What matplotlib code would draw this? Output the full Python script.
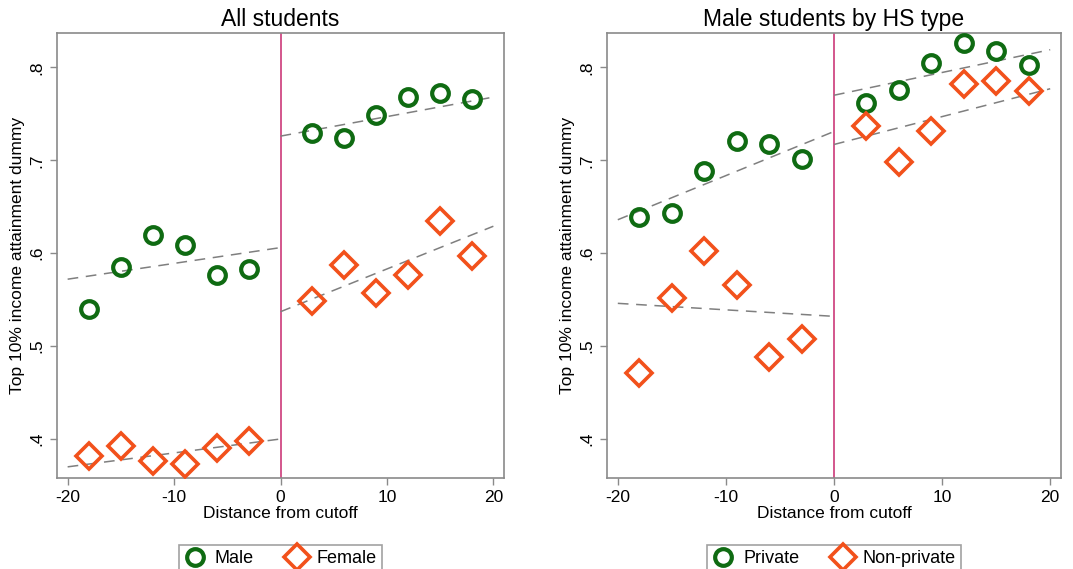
import numpy as np
import matplotlib
matplotlib.use("Agg")
import matplotlib.pyplot as plt
from matplotlib.lines import Line2D

plt.rcParams["font.family"] = ["Liberation Sans", "DejaVu Sans"]
plt.rcParams["axes.unicode_minus"] = False

# distance bins
distance = [-18, -15, -12, -9, -6, -3, 3, 6, 9, 12, 15, 18]

# left panel: all students
male = [0.540, 0.585, 0.620, 0.609, 0.577, 0.583, 0.729, 0.724, 0.749, 0.768, 0.772, 0.766]
female = [0.382, 0.392, 0.376, 0.373, 0.390, 0.398, 0.549, 0.587, 0.557, 0.576, 0.635, 0.597]

# right panel: male students by HS type
private = [0.639, 0.643, 0.688, 0.721, 0.717, 0.701, 0.762, 0.776, 0.805, 0.826, 0.818, 0.803]
nonprivate = [0.471, 0.552, 0.602, 0.566, 0.488, 0.508, 0.737, 0.698, 0.732, 0.782, 0.785, 0.775]

# fitted lines: value at x=-20 and x=0 (left side), x=0 and x=20 (right side)
fit_male = ([0.572, 0.606], [0.726, 0.768])
fit_female = ([0.370, 0.400], [0.537, 0.629])
fit_private = ([0.636, 0.731], [0.770, 0.819])
fit_nonprivate = ([0.546, 0.532], [0.717, 0.777])

titles = ["All students", "Male students by HS type"]
legend_labels = [["Male", "Female"], ["Private", "Non-private"]]

green = "#0f6b12"
orange = "#f2511b"
cutoff_color = "#c8286e"
frame = "#8a8a8a"

fig = plt.figure(figsize=(10.73, 5.69), dpi=100)
ax1 = fig.add_axes([57 / 1073, 1 - 478 / 569, 447 / 1073, 445 / 569])
ax2 = fig.add_axes([607 / 1073, 1 - 478 / 569, 454 / 1073, 445 / 569])

panels = [
    (ax1, male, female, fit_male, fit_female),
    (ax2, private, nonprivate, fit_private, fit_nonprivate),
]

for i, (ax, s1, s2, f1, f2) in enumerate(panels):
    ax.axvline(0, color=cutoff_color, lw=1.1, zorder=1)
    for fit in (f1, f2):
        ax.plot([-20, 0], fit[0], ls=(0, (7, 5)), color="#7f7f7f", lw=1.1, zorder=2)
        ax.plot([0, 20], fit[1], ls=(0, (7, 5)), color="#7f7f7f", lw=1.1, zorder=2)
    ax.plot(distance, s1, "o", ms=12, mfc="none", mec=green, mew=3, zorder=3)
    ax.plot(distance, s2, "D", ms=13, mfc="none", mec=orange, mew=2.6, zorder=3)

    ax.set_xlim(-21.0, 21.0)
    ax.set_ylim(0.358, 0.837)
    ax.set_xticks([-20, -10, 0, 10, 20])
    ax.set_yticks([0.4, 0.5, 0.6, 0.7, 0.8])
    ax.set_yticklabels([".4", ".5", ".6", ".7", ".8"], rotation=90, va="center")
    ax.tick_params(labelsize=12.5, color=frame, length=5, width=1, pad=4)
    for sp in ax.spines.values():
        sp.set_color(frame)
        sp.set_linewidth(1.2)
    ax.set_title(titles[i], fontsize=16.5, pad=5)
    ax.set_xlabel("Distance from cutoff", fontsize=12.5, labelpad=0)
    ax.set_ylabel("Top 10% income attainment dummy", fontsize=12.5, labelpad=3)

    handles = [
        Line2D([], [], ls="none", marker="o", ms=12, mfc="none", mec=green, mew=3),
        Line2D([], [], ls="none", marker="D", ms=13, mfc="none", mec=orange, mew=2.6),
    ]
    leg = ax.legend(handles, legend_labels[i], loc="upper center",
                    bbox_to_anchor=(0.5, -0.13), ncol=2, fontsize=13,
                    frameon=True, fancybox=False, edgecolor=frame,
                    handletextpad=0.5, columnspacing=1.8, borderpad=0.3,
                    handlelength=1.2)
    leg.get_frame().set_linewidth(1.2)

fig.savefig("out.png", dpi=100)
